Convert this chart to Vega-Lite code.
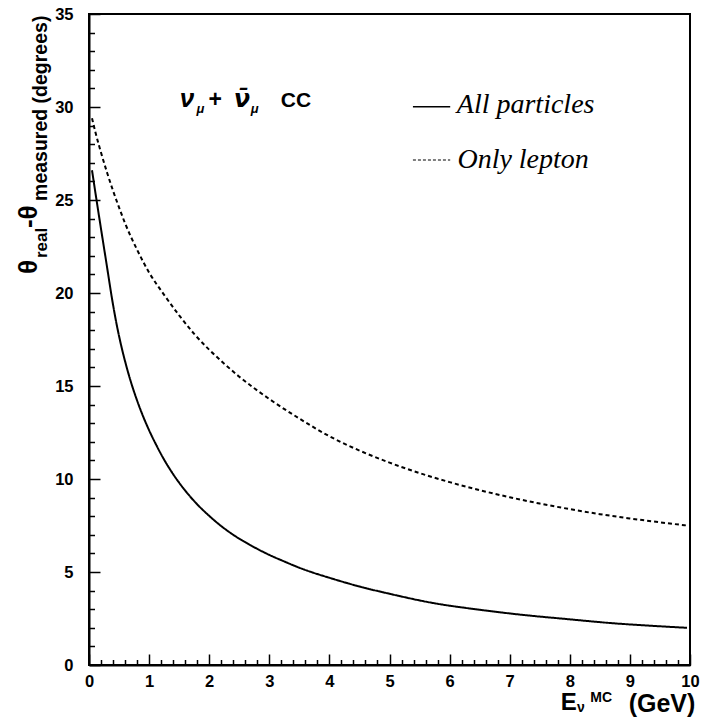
{
  "$schema": "https://vega.github.io/schema/vega-lite/v6.json",
  "width": 601,
  "height": 651,
  "autosize": {"type": "none"},
  "padding": {"left": 89, "top": 14, "right": 12, "bottom": 58},
  "background": "white",
  "config": {
    "view": {"stroke": "black", "strokeWidth": 2},
    "axis": {
      "domainColor": "black",
      "domainWidth": 2,
      "tickColor": "black",
      "tickWidth": 1.5,
      "labelFont": "Liberation Sans",
      "labelFontWeight": "bold",
      "labelFontSize": 16.5,
      "labelColor": "black",
      "grid": false
    }
  },
  "datasets": {
    "curves": [
      {"E": 0.05, "theta": 26.6, "series": "All particles"},
      {"E": 0.13, "theta": 24.9, "series": "All particles"},
      {"E": 0.21, "theta": 23.24, "series": "All particles"},
      {"E": 0.3, "theta": 21.4, "series": "All particles"},
      {"E": 0.38, "theta": 19.75, "series": "All particles"},
      {"E": 0.46, "theta": 18.31, "series": "All particles"},
      {"E": 0.54, "theta": 17.11, "series": "All particles"},
      {"E": 0.62, "theta": 16.09, "series": "All particles"},
      {"E": 0.7, "theta": 15.19, "series": "All particles"},
      {"E": 0.8, "theta": 14.22, "series": "All particles"},
      {"E": 0.9, "theta": 13.37, "series": "All particles"},
      {"E": 1.0, "theta": 12.62, "series": "All particles"},
      {"E": 1.1, "theta": 11.95, "series": "All particles"},
      {"E": 1.25, "theta": 11.04, "series": "All particles"},
      {"E": 1.4, "theta": 10.26, "series": "All particles"},
      {"E": 1.6, "theta": 9.38, "series": "All particles"},
      {"E": 1.8, "theta": 8.64, "series": "All particles"},
      {"E": 2.0, "theta": 8.02, "series": "All particles"},
      {"E": 2.15, "theta": 7.6, "series": "All particles"},
      {"E": 2.4, "theta": 7.0, "series": "All particles"},
      {"E": 2.71, "theta": 6.4, "series": "All particles"},
      {"E": 3.0, "theta": 5.92, "series": "All particles"},
      {"E": 3.26, "theta": 5.55, "series": "All particles"},
      {"E": 3.5, "theta": 5.23, "series": "All particles"},
      {"E": 4.09, "theta": 4.6, "series": "All particles"},
      {"E": 4.5, "theta": 4.22, "series": "All particles"},
      {"E": 5.0, "theta": 3.83, "series": "All particles"},
      {"E": 5.73, "theta": 3.33, "series": "All particles"},
      {"E": 6.5, "theta": 2.97, "series": "All particles"},
      {"E": 7.2, "theta": 2.7, "series": "All particles"},
      {"E": 7.95, "theta": 2.47, "series": "All particles"},
      {"E": 8.7, "theta": 2.25, "series": "All particles"},
      {"E": 9.3, "theta": 2.12, "series": "All particles"},
      {"E": 9.95, "theta": 2.0, "series": "All particles"},
      {"E": 0.05, "theta": 29.4, "series": "Only lepton"},
      {"E": 0.1, "theta": 28.73, "series": "Only lepton"},
      {"E": 0.2, "theta": 27.55, "series": "Only lepton"},
      {"E": 0.3, "theta": 26.48, "series": "Only lepton"},
      {"E": 0.4, "theta": 25.5, "series": "Only lepton"},
      {"E": 0.5, "theta": 24.6, "series": "Only lepton"},
      {"E": 0.6, "theta": 23.75, "series": "Only lepton"},
      {"E": 0.8, "theta": 22.33, "series": "Only lepton"},
      {"E": 1.0, "theta": 21.1, "series": "Only lepton"},
      {"E": 1.25, "theta": 19.9, "series": "Only lepton"},
      {"E": 1.5, "theta": 18.8, "series": "Only lepton"},
      {"E": 1.75, "theta": 17.8, "series": "Only lepton"},
      {"E": 2.0, "theta": 16.95, "series": "Only lepton"},
      {"E": 2.25, "theta": 16.2, "series": "Only lepton"},
      {"E": 2.5, "theta": 15.5, "series": "Only lepton"},
      {"E": 2.75, "theta": 14.88, "series": "Only lepton"},
      {"E": 3.0, "theta": 14.3, "series": "Only lepton"},
      {"E": 3.5, "theta": 13.25, "series": "Only lepton"},
      {"E": 4.0, "theta": 12.3, "series": "Only lepton"},
      {"E": 4.5, "theta": 11.53, "series": "Only lepton"},
      {"E": 5.0, "theta": 10.88, "series": "Only lepton"},
      {"E": 5.5, "theta": 10.32, "series": "Only lepton"},
      {"E": 6.0, "theta": 9.83, "series": "Only lepton"},
      {"E": 6.5, "theta": 9.4, "series": "Only lepton"},
      {"E": 7.0, "theta": 9.02, "series": "Only lepton"},
      {"E": 7.5, "theta": 8.68, "series": "Only lepton"},
      {"E": 8.0, "theta": 8.38, "series": "Only lepton"},
      {"E": 8.5, "theta": 8.11, "series": "Only lepton"},
      {"E": 9.0, "theta": 7.88, "series": "Only lepton"},
      {"E": 9.5, "theta": 7.67, "series": "Only lepton"},
      {"E": 9.95, "theta": 7.5, "series": "Only lepton"}
    ]
  },
  "layer": [
    {
      "data": {"name": "curves"},
      "mark": {"type": "line", "color": "black", "strokeWidth": 2, "interpolate": "monotone"},
      "encoding": {
        "x": {
          "field": "E",
          "type": "quantitative",
          "scale": {"domain": [0, 10], "nice": false, "zero": false},
          "axis": {
            "title": null,
            "values": [0, 0.2, 0.4, 0.6, 0.8, 1, 1.2, 1.4, 1.6, 1.8, 2, 2.2, 2.4, 2.6, 2.8, 3, 3.2, 3.4, 3.6, 3.8, 4, 4.2, 4.4, 4.6, 4.8, 5, 5.2, 5.4, 5.6, 5.8, 6, 6.2, 6.4, 6.6, 6.8, 7, 7.2, 7.4, 7.6, 7.8, 8, 8.2, 8.4, 8.6, 8.8, 9, 9.2, 9.4, 9.6, 9.8, 10],
            "tickCount": 200,
            "tickMinStep": 0.1,
            "format": "d",
            "tickSize": {"condition": {"test": "datum.value % 1 === 0", "value": -11}, "value": -5.5},
            "labelExpr": "datum.value % 1 === 0 ? datum.label : ''",
            "labelPadding": 19,
            "labelBaseline": "top",
            "labelFlush": false,
            "labelOverlap": false
          }
        },
        "y": {
          "field": "theta",
          "type": "quantitative",
          "scale": {"domain": [0, 35], "nice": false, "zero": false},
          "axis": {
            "title": null,
            "values": [0, 1, 2, 3, 4, 5, 6, 7, 8, 9, 10, 11, 12, 13, 14, 15, 16, 17, 18, 19, 20, 21, 22, 23, 24, 25, 26, 27, 28, 29, 30, 31, 32, 33, 34, 35],
            "tickCount": 200,
            "tickMinStep": 0.5,
            "format": "d",
            "tickSize": {"condition": {"test": "datum.value % 5 === 0", "value": -11}, "value": -5.5},
            "labelExpr": "datum.value % 5 === 0 ? datum.label : ''",
            "labelPadding": 27,
            "labelFlush": false,
            "labelOverlap": false
          }
        },
        "strokeDash": {
          "field": "series",
          "type": "nominal",
          "scale": {"domain": ["All particles", "Only lepton"], "range": [[1, 0], [4, 3]]},
          "legend": null
        }
      }
    },
    {
      "data": {"values": [{}]},
      "mark": {"type": "rule", "color": "black", "strokeWidth": 1.5},
      "encoding": {"x": {"datum": 5.39, "type": "quantitative"}, "x2": {"datum": 6.01}, "y": {"datum": 30.02, "type": "quantitative"}}
    },
    {
      "data": {"values": [{}]},
      "mark": {"type": "rule", "color": "black", "strokeWidth": 1.2, "strokeDash": [3, 2]},
      "encoding": {"x": {"datum": 5.39, "type": "quantitative"}, "x2": {"datum": 6.01}, "y": {"datum": 27.15, "type": "quantitative"}}
    },
    {
      "data": {"values": [{}]},
      "mark": {"type": "text", "text": "All particles", "font": "Liberation Serif", "fontStyle": "italic", "fontSize": 28, "align": "left", "baseline": "alphabetic", "color": "black"},
      "encoding": {"x": {"datum": 6.12, "type": "quantitative"}, "y": {"datum": 29.68, "type": "quantitative"}}
    },
    {
      "data": {"values": [{}]},
      "mark": {"type": "text", "text": "Only lepton", "font": "Liberation Serif", "fontStyle": "italic", "fontSize": 28, "align": "left", "baseline": "alphabetic", "color": "black"},
      "encoding": {"x": {"datum": 6.13, "type": "quantitative"}, "y": {"datum": 26.72, "type": "quantitative"}}
    },
    {
      "data": {"values": [{}]},
      "mark": {"type": "text", "text": "ν", "font": "Liberation Sans", "fontStyle": "italic", "fontWeight": "bold", "fontSize": 26, "align": "left", "baseline": "alphabetic", "color": "black"},
      "encoding": {"x": {"datum": 1.51, "type": "quantitative"}, "y": {"datum": 30.0, "type": "quantitative"}}
    },
    {
      "data": {"values": [{}]},
      "mark": {"type": "text", "text": "μ", "font": "Liberation Sans", "fontStyle": "italic", "fontWeight": "bold", "fontSize": 13, "align": "left", "baseline": "alphabetic", "color": "black"},
      "encoding": {"x": {"datum": 1.79, "type": "quantitative"}, "y": {"datum": 29.68, "type": "quantitative"}}
    },
    {
      "data": {"values": [{}]},
      "mark": {"type": "text", "text": "+", "font": "Liberation Sans", "fontWeight": "bold", "fontSize": 23, "align": "left", "baseline": "alphabetic", "color": "black"},
      "encoding": {"x": {"datum": 1.99, "type": "quantitative"}, "y": {"datum": 30.0, "type": "quantitative"}}
    },
    {
      "data": {"values": [{}]},
      "mark": {"type": "text", "text": "ν̄", "font": "DejaVu Sans", "fontStyle": "italic", "fontWeight": "bold", "fontSize": 24, "align": "left", "baseline": "alphabetic", "color": "black"},
      "encoding": {"x": {"datum": 2.41, "type": "quantitative"}, "y": {"datum": 30.0, "type": "quantitative"}}
    },
    {
      "data": {"values": [{}]},
      "mark": {"type": "text", "text": "μ", "font": "Liberation Sans", "fontStyle": "italic", "fontWeight": "bold", "fontSize": 13, "align": "left", "baseline": "alphabetic", "color": "black"},
      "encoding": {"x": {"datum": 2.69, "type": "quantitative"}, "y": {"datum": 29.68, "type": "quantitative"}}
    },
    {
      "data": {"values": [{}]},
      "mark": {"type": "text", "text": "CC", "font": "Liberation Sans", "fontWeight": "bold", "fontSize": 21, "align": "left", "baseline": "alphabetic", "color": "black"},
      "encoding": {"x": {"datum": 3.19, "type": "quantitative"}, "y": {"datum": 30.0, "type": "quantitative"}}
    },
    {
      "data": {"values": [{}]},
      "mark": {"type": "text", "text": "θ", "font": "Liberation Sans", "fontWeight": "bold", "fontSize": 26, "angle": 270, "align": "left", "baseline": "alphabetic", "color": "black"},
      "encoding": {"x": {"datum": -0.865, "type": "quantitative"}, "y": {"datum": 21.02, "type": "quantitative"}}
    },
    {
      "data": {"values": [{}]},
      "mark": {"type": "text", "text": "real", "font": "Liberation Sans", "fontWeight": "bold", "fontSize": 17, "angle": 270, "align": "left", "baseline": "alphabetic", "color": "black"},
      "encoding": {"x": {"datum": -0.699, "type": "quantitative"}, "y": {"datum": 21.88, "type": "quantitative"}}
    },
    {
      "data": {"values": [{}]},
      "mark": {"type": "text", "text": "-θ", "font": "Liberation Sans", "fontWeight": "bold", "fontSize": 26, "angle": 270, "align": "left", "baseline": "alphabetic", "color": "black"},
      "encoding": {"x": {"datum": -0.865, "type": "quantitative"}, "y": {"datum": 23.49, "type": "quantitative"}}
    },
    {
      "data": {"values": [{}]},
      "mark": {"type": "text", "text": "measured (degrees)", "font": "Liberation Sans", "fontWeight": "bold", "fontSize": 19.5, "angle": 270, "align": "left", "baseline": "alphabetic", "color": "black"},
      "encoding": {"x": {"datum": -0.699, "type": "quantitative"}, "y": {"datum": 24.95, "type": "quantitative"}}
    },
    {
      "data": {"values": [{}]},
      "mark": {"type": "text", "text": "E", "font": "Liberation Sans", "fontWeight": "bold", "fontSize": 24, "align": "left", "baseline": "alphabetic", "color": "black"},
      "encoding": {"x": {"datum": 7.85, "type": "quantitative"}, "y": {"datum": -2.42, "type": "quantitative"}}
    },
    {
      "data": {"values": [{}]},
      "mark": {"type": "text", "text": "ν", "font": "Liberation Sans", "fontWeight": "bold", "fontSize": 14, "align": "left", "baseline": "alphabetic", "color": "black"},
      "encoding": {"x": {"datum": 8.12, "type": "quantitative"}, "y": {"datum": -2.55, "type": "quantitative"}}
    },
    {
      "data": {"values": [{}]},
      "mark": {"type": "text", "text": "MC", "font": "Liberation Sans", "fontWeight": "bold", "fontSize": 14, "align": "left", "baseline": "alphabetic", "color": "black"},
      "encoding": {"x": {"datum": 8.34, "type": "quantitative"}, "y": {"datum": -2.0, "type": "quantitative"}}
    },
    {
      "data": {"values": [{}]},
      "mark": {"type": "text", "text": "(GeV)", "font": "Liberation Sans", "fontWeight": "bold", "fontSize": 25, "align": "left", "baseline": "alphabetic", "color": "black"},
      "encoding": {"x": {"datum": 8.98, "type": "quantitative"}, "y": {"datum": -2.52, "type": "quantitative"}}
    }
  ]
}
